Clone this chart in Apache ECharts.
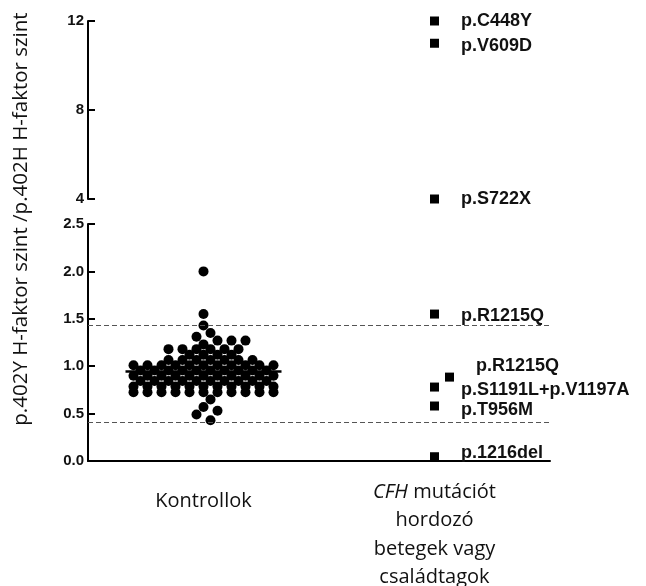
<!DOCTYPE html>
<html>
<head>
<meta charset="utf-8">
<script src="https://cdn.jsdelivr.net/npm/echarts@6/dist/echarts.min.js"></script>
<style>
html, body { margin: 0; padding: 0; background: #fff; }
#chart { width: 646px; height: 586px; }
</style>
</head>
<body>
<div id="chart"></div>
<script>
// kategóriák az x tengelyen
const categories = ['Kontrollok', 'CFH mutációt hordozó betegek vagy családtagok'];

// kontroll minták (leolvasott értékek)
const controlValues = [
  2.00, 1.55, 1.43, 1.35, 1.31, 1.27, 1.27, 1.27, 1.23,
  1.18, 1.18, 1.18, 1.18, 1.18, 1.18,
  1.12, 1.12, 1.12, 1.12,
  1.065, 1.065, 1.065, 1.065, 1.065, 1.065, 1.065,
  1.01, 1.01, 1.01, 1.01, 1.01, 1.01, 1.01, 1.01, 1.01, 1.01, 1.01,
  0.955, 0.955, 0.955, 0.955, 0.955, 0.955, 0.955, 0.955, 0.955, 0.955,
  0.90, 0.90, 0.90, 0.90, 0.90, 0.90, 0.90, 0.90, 0.90, 0.90, 0.90,
  0.845, 0.845, 0.845, 0.845, 0.845, 0.845, 0.845, 0.845, 0.845, 0.845,
  0.785, 0.785, 0.785, 0.785, 0.785, 0.785, 0.785, 0.785, 0.785, 0.785, 0.785,
  0.725, 0.725, 0.725, 0.725, 0.725, 0.725, 0.725, 0.725, 0.725, 0.725, 0.725,
  0.65, 0.57, 0.53, 0.49, 0.43
];
const controlMean = 0.945;
const refLines = [1.425, 0.415];

// mutációt hordozók
const mutationNames = ['p.C448Y', 'p.V609D', 'p.S722X', 'p.R1215Q', 'p.R1215Q', 'p.S1191L+p.V1197A', 'p.T956M', 'p.1216del'];
const mutationValues = [12.0, 11.0, 4.0, 1.55, 0.885, 0.78, 0.58, 0.045];

// tengely beosztások
const upperTicks = [4, 8, 12];
const lowerTicks = [0, 0.5, 1.0, 1.5, 2.0, 2.5];

const boldFont = 'Liberation Sans, Arial, sans-serif';
const textFont = 'Open Sans, Noto Sans, sans-serif';

const chart = echarts.init(document.getElementById('chart'));

// címkék finom igazítása (pixel)
const labelNudge = { 1: [0, 3], 3: [0, 2], 4: [0, -11], 5: [0, 3], 6: [0, 4], 7: [0, -4] };

function mutationItem(i) {
  const item = {
    name: mutationNames[i],
    value: [categories[1], mutationValues[i]],
    label: { offset: labelNudge[i] || [0, 0] }
  };
  if (i === 4) item.symbolOffset = [15, 0];
  return item;
}
const upperIdx = mutationValues.map((v, i) => i).filter(i => mutationValues[i] >= upperTicks[0]);
const lowerIdx = mutationValues.map((v, i) => i).filter(i => mutationValues[i] < upperTicks[0]);

const axisLineStyle = { color: '#000', width: 2 };
const yLabel = { fontWeight: 'bold', fontSize: 15, color: '#111', fontFamily: boldFont, margin: 4 };
const squareLabel = {
  show: true, position: 'right', distance: 22, formatter: '{b}',
  fontWeight: 'bold', fontSize: 18, color: '#111', fontFamily: boldFont
};
const black = { color: '#000', opacity: 1 };

const option = {
  backgroundColor: '#fff',
  animation: false,
  grid: [
    { left: 88, right: 96, top: 21, height: 178, outerBoundsMode: 'none', containLabel: false },
    { left: 88, right: 96, top: 224, height: 237, outerBoundsMode: 'none', containLabel: false }
  ],
  xAxis: [
    { gridIndex: 0, type: 'category', data: categories, show: false },
    {
      gridIndex: 1, type: 'category', data: categories,
      axisLine: { lineStyle: axisLineStyle },
      axisTick: { alignWithLabel: true, length: 8, lineStyle: axisLineStyle },
      axisLabel: {
        margin: 17, interval: 0,
        formatter: (v, i) => i === 0
          ? '{k|Kontrollok}'
          : '{i|CFH}{n| mutációt}\n{n|hordozó}\n{n|betegek vagy}\n{n|családtagok}',
        rich: {
          k: { fontSize: 20, fontFamily: textFont, color: '#111', lineHeight: 46 },
          n: { fontSize: 20, fontFamily: textFont, color: '#111', lineHeight: 28.5 },
          i: { fontSize: 20, fontFamily: textFont, fontStyle: 'italic', color: '#111', lineHeight: 28.5 }
        }
      }
    }
  ],
  yAxis: [
    {
      gridIndex: 0, type: 'value',
      min: upperTicks[0], max: upperTicks[upperTicks.length - 1], interval: upperTicks[1] - upperTicks[0],
      axisLine: { show: true, lineStyle: axisLineStyle },
      axisTick: { show: true, inside: true, length: 7, lineStyle: axisLineStyle },
      axisLabel: yLabel,
      splitLine: { show: false }
    },
    {
      gridIndex: 1, type: 'value',
      min: lowerTicks[0], max: lowerTicks[lowerTicks.length - 1], interval: lowerTicks[1] - lowerTicks[0],
      axisLine: { show: true, lineStyle: axisLineStyle },
      axisTick: { show: true, inside: true, length: 7, lineStyle: axisLineStyle },
      axisLabel: Object.assign({ formatter: v => v.toFixed(1) }, yLabel),
      splitLine: { show: false }
    }
  ],
  graphic: [{
    type: 'text', x: 21, y: 219, rotation: Math.PI / 2,
    style: {
      text: 'p.402Y H-faktor szint /p.402H H-faktor szint',
      font: '20.5px ' + textFont, fill: '#111',
      textAlign: 'center', textVerticalAlign: 'middle'
    }
  }],
  series: [
    {
      id: 'controls', type: 'scatter', xAxisIndex: 1, yAxisIndex: 1, clip: false,
      symbol: 'circle', symbolSize: 10, itemStyle: black,
      data: controlValues.map(v => [categories[0], v]),
      markLine: {
        silent: true, symbol: 'none', label: { show: false },
        lineStyle: { type: [5, 3], color: '#555', width: 1.2 },
        data: refLines.map(v => ({ yAxis: v }))
      }
    },
    {
      id: 'mean', type: 'scatter', xAxisIndex: 1, yAxisIndex: 1, clip: false, z: 3,
      symbol: 'rect', symbolSize: [156, 2.5], itemStyle: black,
      data: [[categories[0], controlMean]]
    },
    {
      type: 'scatter', xAxisIndex: 0, yAxisIndex: 0, clip: false,
      symbol: 'rect', symbolSize: 9, itemStyle: black,
      label: squareLabel,
      data: upperIdx.map(mutationItem)
    },
    {
      type: 'scatter', xAxisIndex: 1, yAxisIndex: 1, clip: false,
      symbol: 'rect', symbolSize: 9, itemStyle: black,
      label: squareLabel,
      data: lowerIdx.map(mutationItem)
    }
  ]
};

chart.setOption(option);

// sor-alapú pontfelhő: azonos értékű pontok egy sorban, 14 px távolsággal
const step = 14;
const placed = [];
const offsets = [];
const rows = [];
controlValues.forEach((v, i) => {
  let row = rows.find(r => r.v === v);
  if (!row) { row = { v: v, idx: [] }; rows.push(row); }
  row.idx.push(i);
});
rows.sort((a, b) => b.v - a.v);
rows.forEach(row => {
  const py = chart.convertToPixel({ yAxisIndex: 1 }, row.v);
  const n = row.idx.length;
  const base = row.idx.map((_, j) => (j - (n - 1) / 2) * step);
  const score = s => {
    let m = Infinity;
    base.forEach(b => placed.forEach(p => { m = Math.min(m, Math.hypot(p[0] - (b + s), p[1] - py)); }));
    return m;
  };
  const maxShift = 70 - base[n - 1];
  let shift = null;
  for (let k = 0; k <= 20; k++) {
    const s = (k % 2 ? 1 : -1) * Math.ceil(k / 2) * 7;
    if (Math.abs(s) > maxShift) continue;
    if (score(s) >= 10) { shift = s; break; }
  }
  if (shift === null) {
    shift = [0, 7, -7].filter(s => Math.abs(s) <= Math.max(maxShift, 0) || s === 0)
      .reduce((best, s) => score(s) > score(best) ? s : best, 0);
  }
  row.idx.forEach((i, j) => {
    offsets[i] = base[j] + shift;
    placed.push([offsets[i], py]);
  });
});
chart.setOption({
  series: [{
    id: 'controls',
    data: controlValues.map((v, i) => ({ value: [categories[0], v], symbolOffset: [offsets[i], 0] }))
  }]
});
</script>
</body>
</html>
